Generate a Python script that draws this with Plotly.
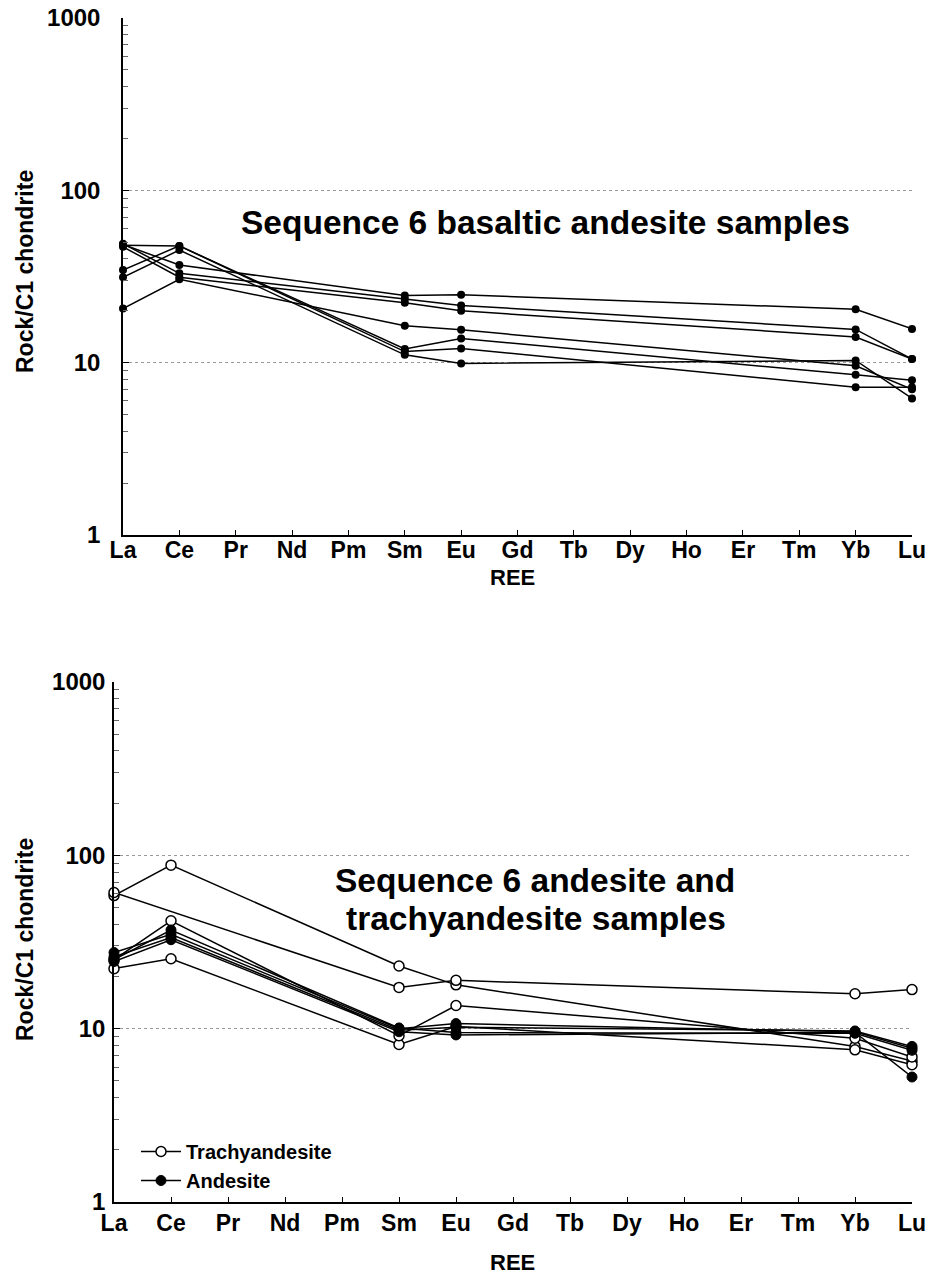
import plotly.graph_objects as go

REE = ["La", "Ce", "Pr", "Nd", "Pm", "Sm", "Eu", "Gd", "Tb", "Dy", "Ho", "Er", "Tm", "Yb", "Lu"]
ELEMS = ["La", "Ce", "Sm", "Eu", "Yb", "Lu"]

# Sequence 6 basaltic andesite samples (La, Ce, Sm, Eu, Yb, Lu)
BA1 = [48.0, 47.6, 12.0, 13.8, 8.5, 7.9]
BA2 = [34.5, 47.6, 11.6, 12.1, 7.2, 7.2]
BA3 = [31.3, 45.0, 11.1, 9.9, 10.3, 6.2]
BA4 = [48.5, 36.9, 24.5, 24.8, 20.4, 15.7]
BA5 = [49.0, 33.0, 23.4, 21.5, 15.6, 10.5]
BA6 = [47.0, 31.3, 22.3, 20.0, 14.1, 10.5]
BA7 = [20.6, 30.5, 16.4, 15.5, 9.6, 7.0]

# Trachyandesite samples (La, Ce, Sm, Eu, Yb, Lu); None = not analysed
TA1 = [58.6, 87.8, 23.0, 17.9, 7.9, 6.5]
TA2 = [61.0, None, 17.3, 19.0, 15.9, 16.8]
TA3 = [22.2, 25.3, 8.1, 10.3, 7.55, 6.2]
TA4 = [25.0, 41.9, 9.1, 13.6, 8.8, 6.87]

# Andesite samples (La, Ce, Sm, Eu, Yb, Lu)
AN1 = [27.5, 35.0, 10.0, 10.7, 9.6, 7.7]
AN2 = [26.0, 33.5, 9.8, 10.2, 9.7, 7.9]
AN3 = [24.4, 32.6, 9.6, 9.2, 9.5, 5.26]
AN4 = [25.0, 37.1, 10.1, 9.5, 9.4, 7.5]

Y_TICKS = [1, 10, 100, 1000]
Y_TICKTEXT = ["1", "10", "100", "1000"]
Y_TITLE = "Rock/C1 chondrite"
X_TITLE = "REE"

FONT = "Arial, Liberation Sans, sans-serif"
W, H = 932, 1279

xpos = [REE.index(e) for e in ELEMS]

fig = go.Figure()

for vals in [BA1, BA2, BA3, BA4, BA5, BA6, BA7]:
    fig.add_trace(go.Scatter(
        x=xpos, y=vals, mode="lines+markers", xaxis="x", yaxis="y",
        line=dict(color="black", width=1.5),
        marker=dict(size=8, color="black"),
        showlegend=False, cliponaxis=False))

first = True
for vals in [TA1, TA2, TA3, TA4]:
    fig.add_trace(go.Scatter(
        x=xpos, y=vals, mode="lines+markers", xaxis="x2", yaxis="y2",
        connectgaps=True, name="Trachyandesite", legendgroup="ta",
        line=dict(color="black", width=1.5),
        marker=dict(size=10, color="white", line=dict(color="black", width=1.5)),
        showlegend=first, cliponaxis=False))
    first = False

first = True
for vals in [AN1, AN2, AN3, AN4]:
    fig.add_trace(go.Scatter(
        x=xpos, y=vals, mode="lines+markers", xaxis="x2", yaxis="y2",
        connectgaps=True, name="Andesite", legendgroup="an",
        line=dict(color="black", width=1.5),
        marker=dict(size=10, color="black", line=dict(color="black", width=1)),
        showlegend=first, cliponaxis=False))
    first = False


def fx(px):
    return px / W


def fy(py):
    return (H - py) / H


def xaxis_cfg(left, anchor, lbl_off):
    return dict(
        domain=[fx(left), fx(912)], anchor=anchor, range=[0, 14], automargin=False,
        tickmode="array", tickvals=list(range(len(REE))), ticktext=REE,
        showline=True, linecolor="black", linewidth=1.5, mirror=False,
        ticks="inside", ticklen=5, tickcolor="black", tickwidth=1,
        showgrid=False, zeroline=False, ticklabeloverflow="allow",
        tickfont=dict(family=FONT, size=23, color="black", weight="bold"),
        ticklabelstandoff=lbl_off,
    )


def yaxis_cfg(top, bottom, anchor, standoff_lbl):
    return dict(
        domain=[fy(bottom), fy(top)], anchor=anchor,
        type="log", range=[0, 3], automargin=False,
        tickmode="array", tickvals=Y_TICKS, ticktext=Y_TICKTEXT,
        showline=True, linecolor="black", linewidth=1.5,
        ticks="inside", ticklen=6, tickcolor="black", tickwidth=1,
        minor=dict(ticks="inside", ticklen=5, tickcolor="#666666", tickwidth=1,
                   tickvals=[m * d for d in (1, 10, 100) for m in range(2, 10)],
                   showgrid=False),
        showgrid=True, gridcolor="#9a9a9a", griddash="dot", gridwidth=1,
        zeroline=False, ticklabeloverflow="allow",
        tickfont=dict(family=FONT, size=24, color="black", weight="bold"),
        ticklabelstandoff=standoff_lbl,
    )


def text_ann(text, x, y, size, angle=0):
    return dict(text=text, x=fx(x), y=fy(y), xref="paper", yref="paper",
                showarrow=False, xanchor="center", yanchor="middle", textangle=angle,
                font=dict(family=FONT, size=size, color="black", weight="bold"))


fig.update_layout(
    width=W, height=H,
    margin=dict(l=0, r=0, t=0, b=0),
    paper_bgcolor="white", plot_bgcolor="white",
    font=dict(family=FONT, color="black"),
    xaxis=xaxis_cfg(123, "y", -6),
    yaxis=yaxis_cfg(18, 535, "x", 16),
    xaxis2=xaxis_cfg(114, "y2", 0),
    yaxis2=yaxis_cfg(682, 1202, "x2", 2),
    legend=dict(
        x=fx(136), y=fy(1132), xanchor="left", yanchor="top",
        bgcolor="rgba(0,0,0,0)", borderwidth=0,
        font=dict(family=FONT, size=20, color="black", weight="bold"),
        traceorder="normal", tracegroupgap=0, itemwidth=40,
    ),
    annotations=[
        text_ann("Sequence 6 basaltic andesite samples", 545, 222, 33.5),
        text_ann("Sequence 6 andesite and", 535, 880, 33.5),
        text_ann("trachyandesite samples", 536, 918, 33.5),
        text_ann(Y_TITLE, 25, 272, 23, -90),
        text_ann(Y_TITLE, 25, 940, 23, -90),
        text_ann(X_TITLE, 512, 577, 22),
        text_ann(X_TITLE, 512, 1262, 22),
    ],
)

fig.write_html("out.html", config={"displayModeBar": False},
               post_script="document.body.style.margin='0';")
